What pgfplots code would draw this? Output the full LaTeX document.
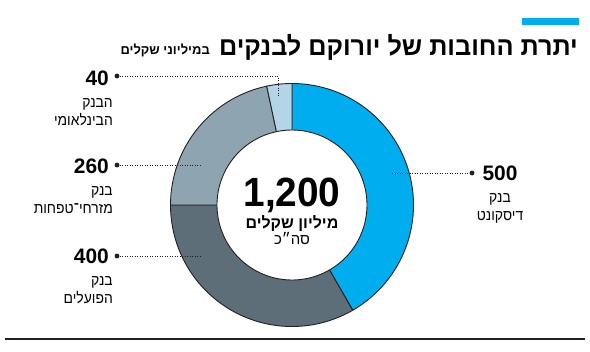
\documentclass[border=0pt]{standalone}
\usepackage{fontspec}
\usepackage{graphicx}
\usepackage{pgfplots}
\pgfplotsset{compat=1.18}
\setmainfont{Liberation Sans}
\newfontfamily\heb[Script=Hebrew]{Liberation Sans}
\TeXXeTstate=1
\definecolor{cDisc}{HTML}{00AEEF}
\definecolor{cPoal}{HTML}{5D6E79}
\definecolor{cMizr}{HTML}{8FA4B1}
\definecolor{cIntl}{HTML}{B4D5E8}
\definecolor{cLine}{HTML}{231F20}
\newcommand{\R}[1]{\beginR #1\endR}
\newcommand{\fs}[1]{\fontsize{#1}{#1}\selectfont}
\newcommand{\lab}[1]{\scalebox{0.93}[1]{\R{#1}}}
\begin{document}
\begin{tikzpicture}
\begin{axis}[width=590bp,height=351bp,scale only axis,
  xmin=0,xmax=590,ymin=0,ymax=351,y dir=reverse,hide axis,clip=false]
\coordinate (bbA) at (axis cs:0,0);
\coordinate (bbB) at (axis cs:590,351);
% donut segments: values 500, 400, 260, 40 (total 1200), 0.3 degree per unit
\addplot[fill=cDisc, draw=cLine, line width=0.9bp, domain={90-500*0.3}:90, samples=80]
  ({292+121.5*cos(x)},{205-121.5*sin(x)}) -- (axis cs:292,205) -- cycle;
\addplot[fill=cPoal, draw=cLine, line width=0.9bp, domain={90-900*0.3}:{90-500*0.3}, samples=80]
  ({292+121.5*cos(x)},{205-121.5*sin(x)}) -- (axis cs:292,205) -- cycle;
\addplot[fill=cMizr, draw=cLine, line width=0.9bp, domain={90-1160*0.3}:{90-900*0.3}, samples=60]
  ({292+121.5*cos(x)},{205-121.5*sin(x)}) -- (axis cs:292,205) -- cycle;
\addplot[fill=cIntl, draw=cLine, line width=0.9bp, domain={90-1200*0.3}:{90-1160*0.3}, samples=20]
  ({292+121.5*cos(x)},{205-121.5*sin(x)}) -- (axis cs:292,205) -- cycle;
\addplot[fill=white, draw=cLine, line width=0.9bp, domain=0:360, samples=120]
  ({292+75*cos(x)},{205-75*sin(x)}) -- cycle;
% leaders
\addplot[cLine, line width=0.8bp, dash pattern=on 0.8bp off 1.7bp] coordinates {(117,76) (278,76) (278,97)};
\addplot[cLine, line width=0.8bp, dash pattern=on 0.8bp off 1.7bp] coordinates {(117,165) (200,165)};
\addplot[cLine, line width=0.8bp, dash pattern=on 0.8bp off 1.7bp] coordinates {(117,256) (200,256)};
\addplot[cLine, line width=0.8bp, dash pattern=on 0.8bp off 1.7bp] coordinates {(392,173) (472,173)};
\addplot[only marks, mark=*, mark size=2.2bp, cLine, mark options={draw=cLine, fill=cLine}]
  coordinates {(117,76) (117,165) (117,256) (472,173)};
% header bar and bottom rule
\addplot[fill=cDisc, draw=none] coordinates {(522,18) (579,18) (579,25) (522,25)} -- cycle;
\addplot[cLine, line width=1.8bp] coordinates {(5,339) (585,339)};
% title
\node[anchor=base east, inner sep=0pt, font=\heb\bfseries\fs{26}] at (axis cs:578,55) {\scalebox{0.975}[1]{\R{יתרת החובות של יורוקם לבנקים}}};
\node[anchor=base east, inner sep=0pt, font=\heb\bfseries\fs{13}] at (axis cs:210,54) {\R{במיליוני שקלים}};
% left labels
\node[anchor=base east, inner sep=0pt, font=\bfseries\fs{21}] at (axis cs:109,85.5) {40};
\node[anchor=base east, inner sep=0pt, font=\heb\fs{15}] at (axis cs:113,107) {\lab{הבנק}};
\node[anchor=base east, inner sep=0pt, font=\heb\fs{15}] at (axis cs:113,125) {\lab{הבינלאומי}};
\node[anchor=base east, inner sep=0pt, font=\bfseries\fs{21}] at (axis cs:109,173.5) {260};
\node[anchor=base east, inner sep=0pt, font=\heb\fs{15}] at (axis cs:113,195) {\lab{בנק}};
\node[anchor=base east, inner sep=0pt, font=\heb\fs{15}] at (axis cs:113,213) {\lab{מזרחי־טפחות}};
\node[anchor=base east, inner sep=0pt, font=\bfseries\fs{21}] at (axis cs:109,263.5) {400};
\node[anchor=base east, inner sep=0pt, font=\heb\fs{15}] at (axis cs:113,285) {\lab{בנק}};
\node[anchor=base east, inner sep=0pt, font=\heb\fs{15}] at (axis cs:113,303) {\lab{הפועלים}};
% right labels
\node[anchor=base, inner sep=0pt, font=\bfseries\fs{21}] at (axis cs:500,180.5) {500};
\node[anchor=base, inner sep=0pt, font=\heb\fs{15}] at (axis cs:500,202) {\lab{בנק}};
\node[anchor=base, inner sep=0pt, font=\heb\fs{15}] at (axis cs:500,220) {\lab{דיסקונט}};
% centre
\node[anchor=base, inner sep=0pt, font=\bfseries\fs{41}] at (axis cs:292,206.5) {\scalebox{0.95}[1]{1,200}};
\node[anchor=base, inner sep=0pt, font=\heb\bfseries\fs{16}] at (axis cs:292,228) {\R{מיליון שקלים}};
\node[anchor=base, inner sep=0pt, font=\heb\fs{15}] at (axis cs:292,244.5) {\R{סה״כ}};
\end{axis}
\pgfresetboundingbox
\path[use as bounding box] (bbA) rectangle (bbB);
\end{tikzpicture}
\end{document}
